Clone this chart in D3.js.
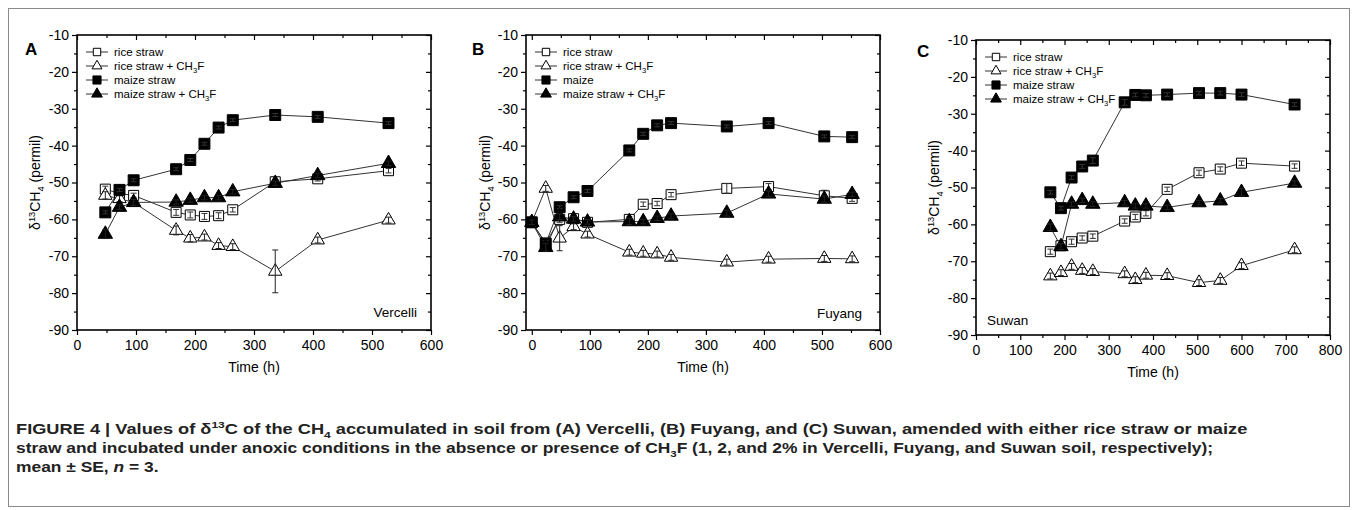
<!DOCTYPE html>
<html>
<head>
<meta charset="utf-8">
<script src="https://cdn.jsdelivr.net/npm/d3@7"></script>
<style>
  body { margin: 0; background: #fff; }
  svg { display: block; font-family: "Liberation Sans", Arial, sans-serif; }
</style>
</head>
<body>
<svg id="fig" width="1356" height="510"></svg>
<script>
// ---- data ----
const legendAC = ["rice straw", "rice straw + CH_{3}F", "maize straw", "maize straw + CH_{3}F"];
const legendB  = ["rice straw", "rice straw + CH_{3}F", "maize", "maize straw + CH_{3}F"];

const yTicks   = [-90, -80, -70, -60, -50, -40, -30, -20, -10];
const xTicksAB = [0, 100, 200, 300, 400, 500, 600];
const xTicksC  = [0, 100, 200, 300, 400, 500, 600, 700, 800];

// (A) Vercelli
const timeA   = [48, 72, 96, 168, 192, 216, 240, 264, 336, 408, 528];
const riceA   = [-51.8, -53.0, -53.5, -58.1, -58.8, -59.2, -59.0, -57.4, -49.8, -49.0, -46.8];
const riceFA  = [-53.5, -54.4, -55.4, -63.0, -65.1, -64.8, -67.1, -67.4, -74.1, -65.6, -60.2];
const maizeA  = [-58.1, -52.0, -49.4, -46.4, -43.9, -39.5, -35.1, -33.1, -31.7, -32.2, -33.9];
const maizeFA = [-64.0, -56.7, -55.4, -55.3, -54.8, -54.1, -54.1, -52.5, -50.2, -48.1, -44.8];
const seRiceA   = [0.8, 0.6, 0.6, 0.8, 0.8, 0.8, 0.8, 0.6, 0.6, 0.6, 0.6];
const seRiceFA  = [1.0, 0.8, 0.8, 1.2, 1.0, 0.8, 0.8, 0.8, 5.8, 0.8, 0.8];
const seMaizeA  = [0.4, 0.4, 0.4, 0.4, 0.4, 0.4, 0.4, 0.4, 0.4, 0.4, 0.4];
const seMaizeFA = [1.2, 0.6, 0.8, 0.6, 0.6, 0.6, 0.6, 0.6, 0.6, 0.6, 0.6];

// (B) Fuyang
const timeB   = [0, 24, 48, 72, 96, 168, 192, 216, 240, 336, 408, 504, 552];
const riceB   = [-60.8, -66.4, -60.0, -59.8, -60.8, -60.0, -55.9, -55.7, -53.3, -51.6, -51.1, -53.6, -54.3];
const riceFB  = [-60.8, -51.6, -65.1, -62.0, -64.0, -68.9, -69.2, -69.4, -70.3, -71.6, -70.8, -70.6, -70.7];
const maizeB  = [-60.8, -66.6, -56.7, -54.0, -52.3, -41.3, -36.8, -34.5, -33.9, -34.8, -33.9, -37.5, -37.7];
const maizeFB = [-60.8, -67.6, -59.3, -59.9, -60.7, -60.6, -60.6, -59.7, -59.1, -58.3, -53.1, -54.5, -53.2];
const seRiceB   = [0.6, 0.8, 0.8, 0.6, 0.6, 0.8, 0.6, 0.6, 0.6, 1.3, 0.8, 1.5, 0.8];
const seRiceFB  = [0.6, 0.8, 3.4, 0.8, 0.8, 0.8, 0.8, 0.8, 0.8, 0.8, 0.8, 0.8, 0.8];
const seMaizeB  = [0.4, 0.8, 0.4, 0.4, 0.4, 0.4, 0.4, 0.4, 0.4, 0.4, 0.4, 0.4, 0.4];
const seMaizeFB = [0.6, 1.0, 0.8, 0.6, 0.6, 0.8, 0.6, 0.6, 0.6, 0.8, 0.8, 0.8, 0.6];

// (C) Suwan
const timeC   = [168, 192, 216, 240, 264, 336, 360, 384, 432, 504, 552, 600, 720];
const riceC   = [-67.4, -65.8, -64.7, -63.7, -63.2, -59.1, -58.0, -57.0, -50.5, -46.0, -45.0, -43.4, -44.2];
const riceFC  = [-74.0, -73.1, -71.4, -72.5, -72.8, -73.4, -75.0, -73.8, -73.9, -75.8, -75.2, -71.2, -66.9];
const maizeC  = [-51.3, -55.6, -47.3, -44.3, -42.7, -26.9, -24.9, -25.0, -24.8, -24.4, -24.4, -24.8, -27.5];
const maizeFC = [-60.8, -66.0, -54.5, -53.5, -54.5, -54.1, -55.0, -55.0, -55.4, -54.1, -53.6, -51.3, -48.8];
const seRiceC   = [0.7, 0.6, 0.7, 0.6, 0.6, 0.6, 0.7, 0.7, 0.6, 0.7, 0.6, 0.6, 0.6];
const seRiceFC  = [0.8, 0.8, 0.8, 0.8, 0.8, 0.8, 0.8, 0.8, 0.8, 0.8, 0.8, 0.8, 0.8];
const seMaizeC  = [0.5, 0.5, 0.5, 0.5, 0.8, 0.8, 0.5, 0.5, 0.5, 0.5, 0.5, 0.5, 0.5];
const seMaizeFC = [0.9, 0.8, 0.6, 0.6, 0.6, 0.6, 0.6, 0.6, 0.6, 0.6, 0.6, 1.0, 0.6];

const captionLines = [
  "FIGURE 4 | Values of δ^{13}C of the CH_{4} accumulated in soil from (A) Vercelli, (B) Fuyang, and (C) Suwan, amended with either rice straw or maize",
  "straw and incubated under anoxic conditions in the absence or presence of CH_{3}F (1, 2, and 2% in Vercelli, Fuyang, and Suwan soil, respectively);",
  "mean ± SE, *n* = 3."
];

// ---- layout ----
const panels = [
  { letter: "A", site: "Vercelli", legend: legendAC, time: timeA,
    ys: [riceA, riceFA, maizeA, maizeFA], se: [seRiceA, seRiceFA, seMaizeA, seMaizeFA],
    left: 77, right: 431, top: 35, bottom: 330, xdom: [0, 600], xticks: xTicksAB,
    letterX: 25, letterY: 55, ylabX: 40, siteX: 417, siteY: 317, siteAnchor: "end" },
  { letter: "B", site: "Fuyang", legend: legendB, time: timeB,
    ys: [riceB, riceFB, maizeB, maizeFB], se: [seRiceB, seRiceFB, seMaizeB, seMaizeFB],
    left: 526, right: 880, top: 35, bottom: 330, xdom: [-10, 600], xticks: xTicksAB,
    letterX: 472, letterY: 55, ylabX: 490, siteX: 862, siteY: 318, siteAnchor: "end" },
  { letter: "C", site: "Suwan", legend: legendAC, time: timeC,
    ys: [riceC, riceFC, maizeC, maizeFC], se: [seRiceC, seRiceFC, seMaizeC, seMaizeFC],
    left: 976, right: 1330, top: 40, bottom: 335, xdom: [0, 800], xticks: xTicksC,
    letterX: 917, letterY: 57, ylabX: 939, siteX: 987, siteY: 325, siteAnchor: "start" }
];

// marker style per series: rice (open square), rice+CH3F (open triangle),
// maize (filled square), maize+CH3F (filled triangle)
const markers = [
  { type: d3.symbolSquare,   size: 100, fill: "#fff" },
  { type: d3.symbolTriangle, size: 78,  fill: "#fff" },
  { type: d3.symbolSquare,   size: 120, fill: "#000" },
  { type: d3.symbolTriangle, size: 90,  fill: "#000" }
];

const svg = d3.select("#fig");

// outer frame of the figure
svg.append("rect")
  .attr("x", 8.5).attr("y", 8.5).attr("width", 1341).attr("height", 498)
  .attr("fill", "none").attr("stroke", "#8a8a8a").attr("stroke-width", 1);

// text with ^{sup}, _{sub} and *italic* pieces
function rich(sel, str, fs) {
  const parts = str.split(/(\^\{[^}]*\}|_\{[^}]*\}|\*[^*]*\*)/).filter(s => s.length);
  let shift = 0;
  parts.forEach(p => {
    let t = p, target = 0, small = false, it = false;
    if (p.startsWith("^{")) { t = p.slice(2, -1); target = -fs * 0.38; small = true; }
    else if (p.startsWith("_{")) { t = p.slice(2, -1); target = fs * 0.25; small = true; }
    else if (p.startsWith("*")) { t = p.slice(1, -1); it = true; }
    const ts = sel.append("tspan").attr("dy", target - shift).text(t);
    if (small) ts.attr("font-size", fs * 0.66);
    if (it) ts.attr("font-style", "italic");
    shift = target;
  });
}

function drawPanel(p) {
  const g = svg.append("g");
  const x = d3.scaleLinear().domain(p.xdom).range([p.left, p.right]);
  const y = d3.scaleLinear().domain([-90, -10]).range([p.bottom, p.top]);

  const xMinor = d3.range(50, p.xdom[1], 100);
  const yMinor = d3.range(-85, -10, 10);

  const styleAxis = a => {
    a.select(".domain").remove();
    a.selectAll("line").attr("stroke", "#000").attr("stroke-width", 1.2);
    a.selectAll("text").attr("font-size", 14).attr("fill", "#000")
      .attr("font-family", "Liberation Sans, Arial, sans-serif");
  };

  // left (labels, ticks out)
  g.append("g").attr("transform", `translate(${p.left},0)`)
    .call(d3.axisLeft(y).tickValues(yTicks).tickSize(5).tickPadding(3).tickFormat(d => String(d)))
    .call(styleAxis);
  g.append("g").attr("transform", `translate(${p.left},0)`)
    .call(d3.axisLeft(y).tickValues(yMinor).tickSize(3).tickFormat(""))
    .call(styleAxis);
  // bottom (labels, ticks out)
  g.append("g").attr("transform", `translate(0,${p.bottom})`)
    .call(d3.axisBottom(x).tickValues(p.xticks).tickSize(5).tickPadding(5).tickFormat(d => String(d)))
    .call(styleAxis);
  g.append("g").attr("transform", `translate(0,${p.bottom})`)
    .call(d3.axisBottom(x).tickValues(xMinor).tickSize(3).tickFormat(""))
    .call(styleAxis);
  // top & right mirrors, ticks pointing in
  g.append("g").attr("transform", `translate(0,${p.top})`)
    .call(d3.axisTop(x).tickValues(p.xticks).tickSize(-5).tickFormat(""))
    .call(styleAxis);
  g.append("g").attr("transform", `translate(0,${p.top})`)
    .call(d3.axisTop(x).tickValues(xMinor).tickSize(-3).tickFormat(""))
    .call(styleAxis);
  g.append("g").attr("transform", `translate(${p.right},0)`)
    .call(d3.axisRight(y).tickValues(yTicks).tickSize(-5).tickFormat(""))
    .call(styleAxis);
  g.append("g").attr("transform", `translate(${p.right},0)`)
    .call(d3.axisRight(y).tickValues(yMinor).tickSize(-3).tickFormat(""))
    .call(styleAxis);

  // plot frame
  g.append("rect")
    .attr("x", p.left).attr("y", p.top)
    .attr("width", p.right - p.left).attr("height", p.bottom - p.top)
    .attr("fill", "none").attr("stroke", "#000").attr("stroke-width", 1.6);

  // connecting lines
  const line = d3.line().x(d => x(d.t)).y(d => y(d.v));
  const rows = p.ys.map((vals, i) => vals.map((v, j) => ({ t: p.time[j], v: v, se: p.se[i][j] })));
  rows.forEach(r => {
    g.append("path").datum(r).attr("d", line)
      .attr("fill", "none").attr("stroke", "#333").attr("stroke-width", 1);
  });

  // markers + error bars
  rows.forEach((r, i) => {
    const m = markers[i];
    const sym = d3.symbol().type(m.type).size(m.size);
    g.append("g").selectAll("path").data(r).join("path")
      .attr("d", sym)
      .attr("transform", d => `translate(${x(d.t)},${y(d.v)})`)
      .attr("fill", m.fill).attr("stroke", "#000").attr("stroke-width", 1);
    const eb = g.append("g").attr("stroke", i % 2 ? "#222" : "#333").attr("stroke-width", 1);
    eb.selectAll("line.v").data(r).join("line").attr("class", "v")
      .attr("x1", d => x(d.t)).attr("x2", d => x(d.t))
      .attr("y1", d => y(d.v - d.se)).attr("y2", d => y(d.v + d.se));
    eb.selectAll("line.lo").data(r).join("line").attr("class", "lo")
      .attr("x1", d => x(d.t) - 3).attr("x2", d => x(d.t) + 3)
      .attr("y1", d => y(d.v - d.se)).attr("y2", d => y(d.v - d.se));
    eb.selectAll("line.hi").data(r).join("line").attr("class", "hi")
      .attr("x1", d => x(d.t) - 3).attr("x2", d => x(d.t) + 3)
      .attr("y1", d => y(d.v + d.se)).attr("y2", d => y(d.v + d.se));
  });

  // legend
  const lg = g.append("g");
  p.legend.forEach((name, i) => {
    const cy = p.top + 17 + i * 14;
    const x0 = p.left + 9, x1 = x0 + 22;
    lg.append("line").attr("x1", x0).attr("x2", x1).attr("y1", cy).attr("y2", cy)
      .attr("stroke", "#333").attr("stroke-width", 1);
    const m = markers[i];
    lg.append("path").attr("d", d3.symbol().type(m.type).size(m.size * 0.55))
      .attr("transform", `translate(${(x0 + x1) / 2},${cy})`)
      .attr("fill", m.fill).attr("stroke", "#000").attr("stroke-width", 1);
    const t = lg.append("text").attr("x", x1 + 6).attr("y", cy + 4)
      .attr("font-size", 11.5).attr("fill", "#000");
    rich(t, name, 11.5);
  });

  // panel letter
  g.append("text").attr("x", p.letterX).attr("y", p.letterY)
    .attr("font-size", 17).attr("font-weight", "bold").text(p.letter);

  // site name
  g.append("text").attr("x", p.siteX).attr("y", p.siteY)
    .attr("text-anchor", p.siteAnchor).attr("font-size", 13.5).text(p.site);

  // axis titles
  g.append("text")
    .attr("x", (p.left + p.right) / 2).attr("y", p.bottom + 42)
    .attr("text-anchor", "middle").attr("font-size", 14).text("Time (h)");
  const yl = g.append("text")
    .attr("transform", `translate(${p.ylabX},${(p.top + p.bottom) / 2}) rotate(-90)`)
    .attr("text-anchor", "middle").attr("font-size", 14);
  rich(yl, "δ^{13}CH_{4} (permil)", 14);
}

panels.forEach(drawPanel);

// caption, each line squeezed to the width it takes in the figure
const capY = [434, 453, 472];
const capW = [1232, 1198, null];
let capScale = 1;
captionLines.forEach((s, i) => {
  const t = svg.append("text").attr("x", 0).attr("y", 0)
    .attr("font-size", 15).attr("font-weight", "bold").attr("fill", "#222");
  rich(t, s, 15);
  const w = t.node().getBBox().width;
  if (capW[i]) capScale = capW[i] / w;
  t.attr("transform", `translate(16,${capY[i]}) scale(${capScale},1)`);
});
</script>
</body>
</html>
